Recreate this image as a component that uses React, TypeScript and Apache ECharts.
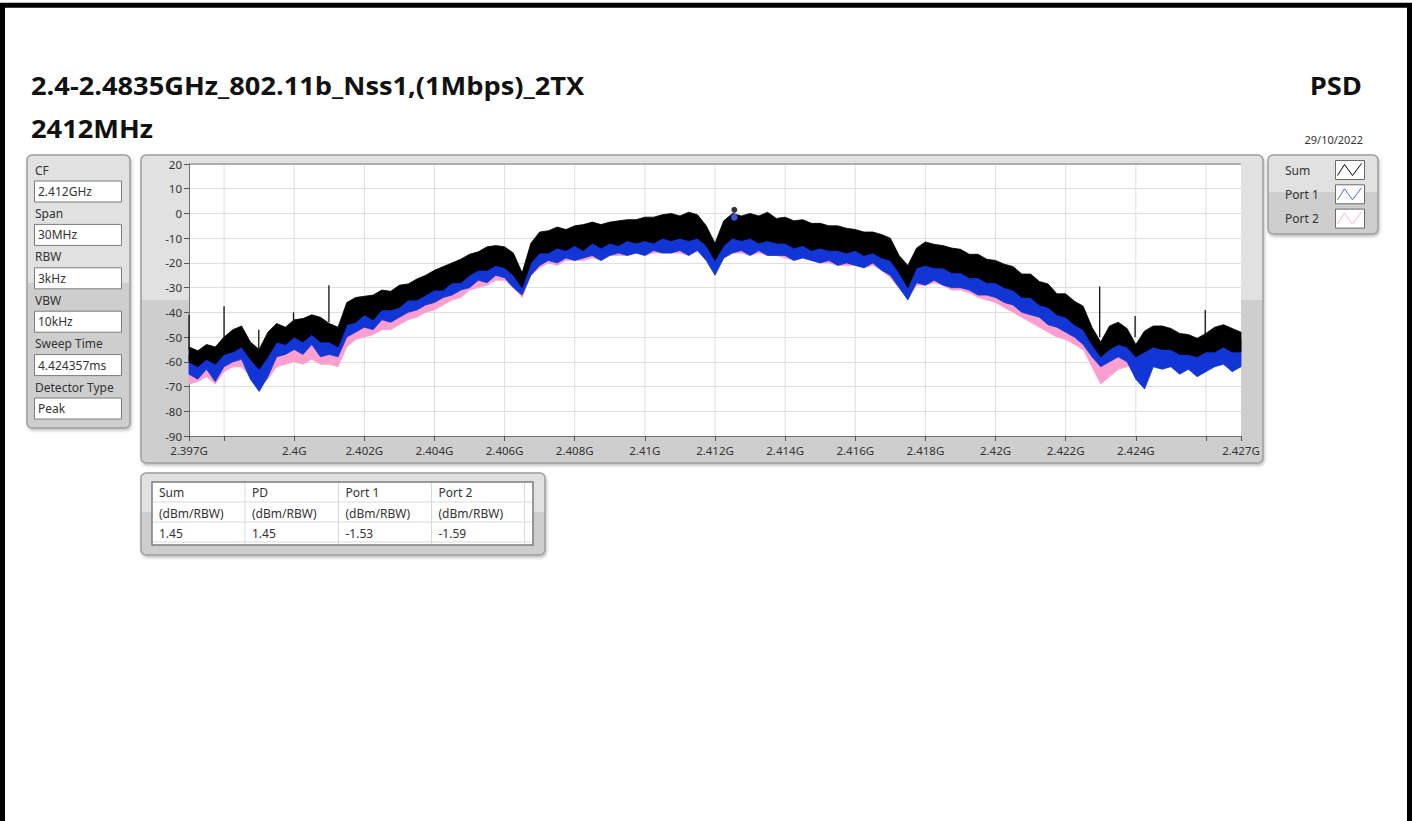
import React, { useEffect, useRef } from 'react';
import * as echarts from 'echarts';

// ---------------- data ----------------
const FREQ_START_MHZ = 2397;
const FREQ_STEP_MHZ = 0.25;

// Sum trace (black) – upper envelope and lower edge of the dense part, dBm
const sumTop = [
  -54, -55.5, -53, -54, -50, -47, -45.5, -52, -55, -48, -44.5, -46, -43, -42.5, -41, -42,
  -44.5, -46, -36, -34, -33.5, -33, -31, -31.5, -29, -28.5, -26.5, -25, -23, -21.5, -20, -18.5,
  -16.5, -15.5, -13.5, -13, -13.5, -16, -24, -12, -7.5, -7, -5.5, -6.5, -5, -4.5, -3.5, -4.5,
  -3.5, -3, -2.5, -2.5, -1.5, -1.5, -0.5, 0, -1, 0.5, -0.5, -5, -12, -3, 0, -1,
  0, -1, 0.5, -2, -1.5, -3, -2.5, -4, -4, -5, -5, -6, -6.5, -7.5, -7.5, -8.5,
  -10, -17, -21, -14, -11.5, -12.5, -13, -14, -14.5, -16.5, -16.5, -18.5, -19, -20.5, -21.5, -24.5,
  -24.5, -27.5, -28.5, -32.5, -32.5, -35.5, -37.5, -46, -52, -45.5, -44, -46.5, -53, -47.5, -45.5, -45.5,
  -46.5, -48.5, -49, -50.5, -48.5, -46, -45, -46.5, -48,
];
const sumBot = [
  -60, -62, -59, -61, -57, -56, -54, -59, -63, -58, -52, -53, -50, -52, -49, -52,
  -52, -54, -45, -44, -41, -43, -39, -39, -38, -35, -35, -33, -31, -31, -28, -28,
  -25, -23, -23, -21, -22, -25, -30, -20, -16, -16, -14, -15, -13, -15, -12, -14,
  -12, -13, -11, -12, -11, -12, -10, -11, -10, -11, -10, -13, -19, -13, -10, -11,
  -10, -12, -11, -12, -12, -14, -13, -15, -14, -15, -15, -16, -15, -17, -16, -18,
  -19, -24, -30, -22, -21, -22, -22, -24, -24, -26, -26, -28, -28, -30, -31, -34,
  -34, -37, -38, -41, -42, -45, -47, -53, -58, -55, -53, -54, -58, -56, -54, -55,
  -55, -57, -57, -58, -56, -56, -54, -56, -56,
];
// Port 1 trace (blue)
const port1Top = [
  -57, -58, -57, -56, -53, -50, -49, -54, -57, -51, -48, -48, -47, -45, -45, -44,
  -47, -49, -39, -37, -37, -36, -35, -34, -33, -31, -30, -28, -26, -25, -23, -22,
  -20, -18, -17, -16, -17, -19, -27, -15, -11, -10, -9, -9, -8, -8, -7, -7,
  -7, -6, -6, -5, -5, -4, -4, -3, -4, -3, -3, -6, -15, -6, -2, -4,
  -3, -4, -3, -5, -5, -6, -6, -7, -7, -8, -8, -9, -10, -10, -11, -11,
  -14, -20, -24, -17, -15, -15, -16, -17, -18, -19, -20, -21, -22, -23, -25, -27,
  -28, -30, -32, -35, -36, -38, -41, -49, -55, -49, -47, -49, -56, -51, -49, -48,
  -50, -51, -53, -53, -52, -49, -48, -49, -51,
];
const port1Bot = [
  -65, -67, -63, -68, -62, -60, -59, -67, -72, -66, -58, -57, -55, -57, -53, -58,
  -57, -58, -50, -48, -46, -47, -43, -44, -42, -40, -39, -37, -36, -34, -33, -31,
  -30, -27, -28, -25, -26, -30, -33, -25, -21, -19, -20, -18, -19, -18, -17, -19,
  -17, -16, -17, -16, -17, -15, -16, -16, -15, -17, -15, -19, -25, -18, -16, -15,
  -17, -15, -17, -17, -17, -19, -18, -19, -20, -19, -21, -20, -21, -22, -20, -23,
  -25, -30, -35, -28, -29, -27, -29, -30, -30, -31, -33, -33, -34, -36, -37, -40,
  -41, -42, -45, -46, -48, -50, -53, -58, -62, -60, -58, -60, -67, -71, -62, -63,
  -62, -65, -63, -66, -64, -62, -61, -64, -62,
];
// Port 2 trace (pink)
const port2Top = [
  -58, -58, -57, -57, -54, -51, -49, -54, -58, -52, -49, -48, -48, -46, -46, -45,
  -48, -50, -40, -38, -37, -36, -35, -34, -33, -31, -30, -28, -27, -25, -24, -22,
  -20, -18, -17, -16, -17, -19, -27, -16, -11, -10, -9, -9, -8, -8, -7, -7,
  -7, -6, -6, -5, -5, -4, -4, -3, -4, -3, -3, -6, -15, -6, -2, -4,
  -3, -4, -3, -5, -5, -6, -6, -7, -7, -8, -8, -9, -10, -10, -11, -11,
  -14, -20, -24, -17, -15, -15, -16, -17, -18, -19, -20, -21, -22, -24, -26, -28,
  -29, -31, -33, -36, -37, -39, -42, -50, -56, -50, -48, -50, -56, -52, -49, -48,
  -50, -51, -53, -53, -52, -49, -49, -49, -51,
];
const port2Bot = [
  -69, -68, -66, -69, -64, -62, -62, -66, -70, -67, -62, -61, -60, -61, -59, -61,
  -61, -62, -54, -51, -50, -49, -47, -47, -45, -43, -42, -40, -39, -37, -35, -34,
  -31, -30, -29, -27, -27, -30, -34, -25, -22, -20, -21, -19, -19, -19, -18, -19,
  -17, -17, -17, -16, -17, -16, -16, -16, -16, -17, -15, -19, -24, -18, -16, -16,
  -17, -16, -17, -17, -18, -19, -18, -19, -20, -20, -21, -21, -21, -22, -21, -23,
  -26, -30, -34, -29, -29, -28, -29, -31, -31, -32, -34, -35, -36, -38, -40, -42,
  -44, -46, -48, -50, -51, -53, -55, -62, -69, -66, -63, -62, -61, -62, -59, -59,
  -59, -62, -60, -61, -60, -60, -59, -61, -60,
];

// narrow spurs on the Sum trace
const spurFreq = [2397.0, 2398.0, 2398.99, 2399.98, 2400.99, 2422.97, 2423.98, 2425.98];
const spurTop = [-41, -37.5, -47, -40, -29, -29.5, -41.5, -39];
const spurBase = [-55, -51, -55, -45, -44, -50, -50, -49];

// peak marker (table values)
const markerFreq = 2412.55;
const tableHeaders = ['Sum', 'PD', 'Port 1', 'Port 2'];
const tableUnits = ['(dBm/RBW)', '(dBm/RBW)', '(dBm/RBW)', '(dBm/RBW)'];
const tableValues = [1.45, 1.45, -1.53, -1.59];

// axes
const xLabelValues = [2397, 2400, 2402, 2404, 2406, 2408, 2410, 2412, 2414, 2416, 2418, 2420, 2422, 2424, 2427];
const xTickValues = [2397, 2398, 2400, 2402, 2404, 2406, 2408, 2410, 2412, 2414, 2416, 2418, 2420, 2422, 2424, 2426, 2427];
const xGridValues = [2398, 2400, 2402, 2404, 2406, 2408, 2410, 2412, 2414, 2416, 2418, 2420, 2422, 2424, 2426];

// settings panel
const settingLabels = ['CF', 'Span', 'RBW', 'VBW', 'Sweep Time', 'Detector Type'];
const settingValues = ['2.412GHz', '30MHz', '3kHz', '10kHz', '4.424357ms', 'Peak'];

const legendNames = ['Sum', 'Port 1', 'Port 2'];
const SUM_COLOR = '#000000';
const P1_COLOR = '#1236d6';
const P2_COLOR = '#fa9fcf';
const legendColors = [SUM_COLOR, '#3d6ae8', '#ffb3d6'];

const FREQ = sumTop.map((_, i) => FREQ_START_MHZ + i * FREQ_STEP_MHZ);

const FONT = '"Noto Sans", "Open Sans", sans-serif';
const TITLE_FONT = '"Open Sans", "Noto Sans", sans-serif';
const TEXT_COLOR = '#333';

function panelFill() {
  return new echarts.graphic.LinearGradient(0, 0, 0, 1, [
    { offset: 0, color: '#e1e1e1' },
    { offset: 0.47, color: '#e1e1e1' },
    { offset: 0.47, color: '#cecece' },
    { offset: 1, color: '#cecece' },
  ]);
}

function panel(x: number, y: number, w: number, h: number) {
  return {
    type: 'rect',
    z: -10,
    silent: true,
    shape: { x, y, width: w, height: h, r: 5 },
    style: {
      fill: panelFill(),
      stroke: '#9d9d9d',
      lineWidth: 1.5,
      shadowBlur: 3,
      shadowOffsetX: 1,
      shadowOffsetY: 2,
      shadowColor: 'rgba(0,0,0,0.25)',
    },
  };
}

function text(x: number, y: number, str: string, size: number, opts: any = {}) {
  return {
    type: 'text',
    z: 20,
    silent: true,
    x,
    y,
    scaleX: opts.scaleX || 1,
    style: {
      text: str,
      fill: opts.fill || TEXT_COLOR,
      fontSize: size,
      fontFamily: opts.family || FONT,
      fontWeight: opts.weight || 'normal',
      textAlign: opts.align || 'left',
      textVerticalAlign: 'middle',
    },
  };
}

function bandSeries(name: string, lo: number[], hi: number[], color: string, z: number) {
  return {
    type: 'custom',
    name,
    z,
    silent: true,
    coordinateSystem: 'cartesian2d',
    data: [[FREQ[0], hi[0]]],
    encode: { x: 0, y: 1 },
    renderItem: (_params: any, api: any) => {
      const pts: number[][] = [];
      for (let i = 0; i < FREQ.length; i++) pts.push(api.coord([FREQ[i], hi[i]]));
      for (let i = FREQ.length - 1; i >= 0; i--) pts.push(api.coord([FREQ[i], lo[i]]));
      return {
        type: 'polygon',
        shape: { points: pts },
        style: { fill: color, stroke: color, lineWidth: 0.8 },
      };
    },
  };
}

function buildOption() {
  const graphics: any[] = [];
  // page frame
  graphics.push({
    type: 'rect', z: -20, silent: true,
    shape: { x: 2.5, y: 5.25, width: 1407, height: 1000 },
    style: { fill: 'none', stroke: '#000', lineWidth: 5 },
  });
  // titles
  const tOpts = { weight: 'bold', fill: '#111', family: TITLE_FONT, scaleX: 1.09 };
  graphics.push(text(31, 85, '2.4-2.4835GHz_802.11b_Nss1,(1Mbps)_2TX', 25, tOpts));
  graphics.push(text(31, 128, '2412MHz', 25, tOpts));
  graphics.push(text(1362, 85, 'PSD', 25, { ...tOpts, align: 'right' }));
  graphics.push(text(1363, 139, '29/10/2022', 11, { align: 'right' }));

  // panels
  graphics.push(panel(27, 155, 103, 273));
  graphics.push(panel(141, 155, 1122, 308));
  graphics.push(panel(1268, 155, 110, 79));
  graphics.push(panel(141, 473, 404, 82));

  // plot area background + top frame line
  graphics.push({
    type: 'rect', z: -5, silent: true,
    shape: { x: 189, y: 164, width: 1052, height: 272 },
    style: { fill: '#ffffff' },
  });
  graphics.push({
    type: 'line', z: 5, silent: true,
    shape: { x1: 189, y1: 164, x2: 1241, y2: 164 },
    style: { stroke: '#7a7a7a', lineWidth: 1 },
  });

  // settings panel
  settingLabels.forEach((lab, i) => {
    const ly = 170 + i * 43.4;
    graphics.push(text(35, ly, lab, 12));
    graphics.push({
      type: 'rect', z: -3, silent: true,
      shape: { x: 34.5, y: ly + 11, width: 87, height: 21 },
      style: { fill: '#ffffff', stroke: '#7c7c7c', lineWidth: 1 },
    });
    graphics.push(text(38, ly + 21.5, settingValues[i], 12));
  });

  // legend panel
  legendNames.forEach((nm, i) => {
    const cy = 170 + i * 24.3;
    graphics.push(text(1285, cy, nm, 12));
    const bx = 1335.5, by = cy - 9.5;
    graphics.push({
      type: 'rect', z: -3, silent: true,
      shape: { x: bx, y: by, width: 29, height: 19 },
      style: { fill: '#ffffff', stroke: '#6a6a6a', lineWidth: 1 },
    });
    graphics.push({
      type: 'polyline', z: 4, silent: true,
      shape: { points: [[bx + 2, by + 15], [bx + 9, by + 4], [bx + 17, by + 15], [bx + 26, by + 3]] },
      style: { stroke: legendColors[i], lineWidth: 1, fill: 'none' },
    });
  });

  // table
  const colX = [152, 245, 338.5, 431.5, 524.5, 533];
  const rowY = [482, 502, 522, 542, 545];
  graphics.push({
    type: 'rect', z: -3, silent: true,
    shape: { x: 152, y: 482, width: 381, height: 63 },
    style: { fill: '#ffffff', stroke: '#7c7c7c', lineWidth: 1.5 },
  });
  for (let c = 1; c < colX.length - 1; c++) {
    graphics.push({
      type: 'line', z: -2, silent: true,
      shape: { x1: colX[c], y1: 483, x2: colX[c], y2: 544 },
      style: { stroke: '#d9d9d9', lineWidth: 1 },
    });
  }
  for (let r = 1; r < rowY.length - 1; r++) {
    graphics.push({
      type: 'line', z: -2, silent: true,
      shape: { x1: 153, y1: rowY[r], x2: 532, y2: rowY[r] },
      style: { stroke: '#d9d9d9', lineWidth: 1 },
    });
  }
  tableHeaders.forEach((h, c) => {
    const tx = colX[c] + 7;
    graphics.push(text(tx, 492.5, h, 12));
    graphics.push(text(tx, 513, tableUnits[c], 12));
    graphics.push(text(tx, 533, tableValues[c].toFixed(2), 12));
  });

  const series: any[] = [
    {
      type: 'custom',
      name: 'xgrid',
      z: 1,
      silent: true,
      coordinateSystem: 'cartesian2d',
      data: xGridValues.map((f) => [f, -90]),
      encode: { x: 0, y: 1 },
      renderItem: (_p: any, api: any) => {
        const a = api.coord([api.value(0), -90]);
        const b = api.coord([api.value(0), 20]);
        return {
          type: 'line',
          shape: { x1: a[0], y1: a[1], x2: b[0], y2: b[1] },
          style: { stroke: '#dedede', lineWidth: 1 },
        };
      },
    },
    bandSeries('Port 2', port2Bot, port2Top, P2_COLOR, 3),
    bandSeries('Port 1', port1Bot, port1Top, P1_COLOR, 4),
    bandSeries('Sum', sumBot, sumTop, SUM_COLOR, 5),
    {
      type: 'custom',
      name: 'Sum spurs',
      z: 6,
      silent: true,
      coordinateSystem: 'cartesian2d',
      data: spurFreq.map((f, i) => [f, spurBase[i], spurTop[i]]),
      encode: { x: 0, y: [1, 2] },
      renderItem: (_p: any, api: any) => {
        const a = api.coord([api.value(0), api.value(1)]);
        const b = api.coord([api.value(0), api.value(2)]);
        return {
          type: 'line',
          shape: { x1: a[0], y1: a[1], x2: b[0], y2: b[1] },
          style: { stroke: '#111', lineWidth: 1.3 },
        };
      },
    },
    {
      type: 'scatter',
      name: 'Port 2 peak',
      z: 7,
      silent: true,
      symbolSize: 6,
      itemStyle: { color: P2_COLOR },
      data: [[markerFreq, tableValues[3]]],
    },
    {
      type: 'scatter',
      name: 'Port 1 peak',
      z: 8,
      silent: true,
      symbolSize: 7,
      itemStyle: { color: '#1f47e0' },
      data: [[markerFreq, tableValues[2]]],
    },
    {
      type: 'scatter',
      name: 'Sum peak',
      z: 9,
      silent: true,
      symbolSize: 6,
      itemStyle: { color: '#000' },
      data: [[markerFreq, tableValues[0]]],
    },
  ];

  return {
    animation: false,
    backgroundColor: '#ffffff',
    textStyle: { fontFamily: FONT },
    grid: { left: 189, top: 164, width: 1052, height: 272, containLabel: false, show: false },
    xAxis: {
      type: 'value',
      min: 2397,
      max: 2427,
      axisLine: { show: true, onZero: false, lineStyle: { color: '#707070', width: 1 } },
      axisTick: { show: true, length: 5, lineStyle: { color: '#555' }, customValues: xTickValues },
      axisLabel: {
        show: true,
        customValues: xLabelValues,
        color: TEXT_COLOR,
        fontSize: 11.5,
        fontFamily: FONT,
        margin: 8,
        formatter: (v: number) => `${parseFloat((v / 1000).toFixed(3))}G`,
      },
      splitLine: { show: false },
    },
    yAxis: {
      type: 'value',
      min: -90,
      max: 20,
      interval: 10,
      axisLine: { show: true, onZero: false, lineStyle: { color: '#707070', width: 1 } },
      axisTick: { show: true, length: 5, lineStyle: { color: '#555' } },
      axisLabel: { color: TEXT_COLOR, fontSize: 11.5, fontFamily: FONT, margin: 7 },
      splitLine: { show: true, lineStyle: { color: '#dedede', width: 1 } },
    },
    graphic: { elements: graphics },
    series,
  };
}

export default function App() {
  const ref = useRef<HTMLDivElement>(null);
  useEffect(() => {
    if (!ref.current) return;
    const chart = echarts.init(ref.current, undefined, { renderer: 'svg' });
    chart.setOption(buildOption() as any);
    return () => chart.dispose();
  }, []);
  return (
    <div
      ref={ref}
      style={{ position: 'absolute', left: 0, top: 0, width: 1412, height: 821, background: '#fff' }}
    />
  );
}
